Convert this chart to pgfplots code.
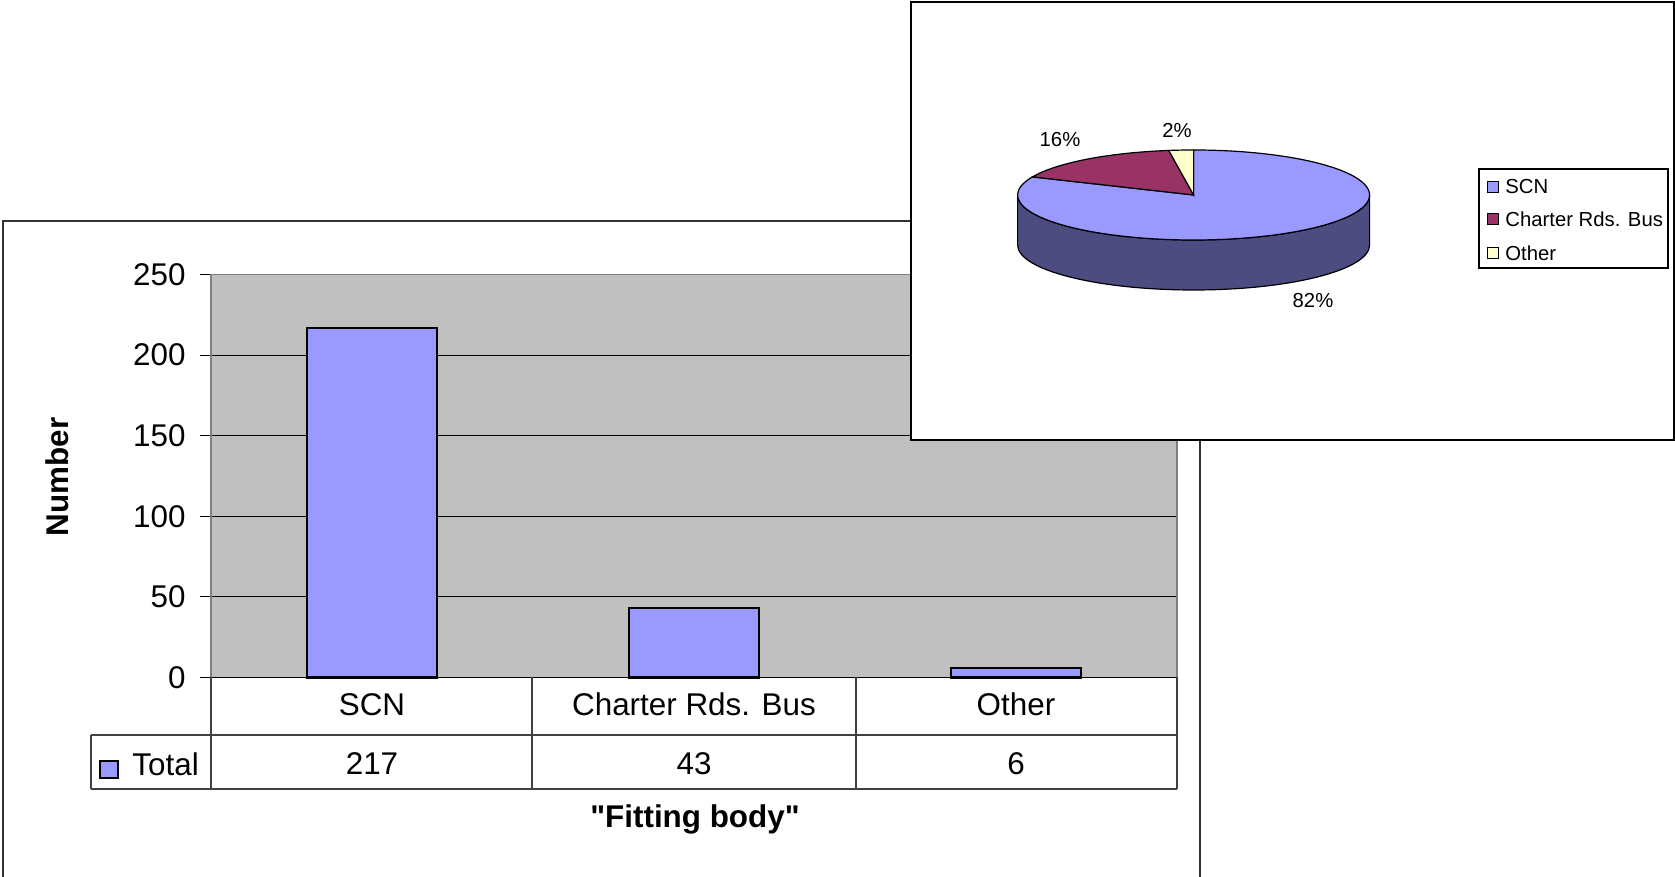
\documentclass[border=0pt]{standalone}
\usepackage{pgfplots}
\pgfplotsset{compat=1.18}
\usepackage{fontspec}
\setmainfont{Liberation Sans}[Ligatures=TeXOff]
\definecolor{scn}{HTML}{9999FF}
\definecolor{scnside}{HTML}{4C4C80}
\definecolor{charter}{HTML}{993366}
\definecolor{other}{HTML}{FFFFCC}
\definecolor{plotgray}{HTML}{C0C0C0}
\newcommand{\fbig}{\fontsize{15.7}{18}\selectfont}
\newcommand{\fsmall}{\fontsize{10.15}{12}\selectfont}
\begin{document}
\begin{tikzpicture}[x=0.5pt,y=0.5pt]
\useasboundingbox (0,0) rectangle (1675,877);
\clip (0,0) rectangle (1675,877);
% frame of bar chart
\draw[black!80, line width=0.75pt] (3,-5) -- (3,656) -- (1200,656) -- (1200,-5);
\begin{axis}[at={(105.5pt,99.75pt)}, anchor=south west, scale only axis,
  width=483pt, height=201.5pt,
  xmin=-0.5, xmax=2.5, ymin=0, ymax=250,
  ytick={0,50,...,250}, xtick={0,1,2}, ytick pos=left,
  xticklabels={SCN,Charter Rds. Bus,Other},
  axis background/.style={fill=plotgray},
  axis line style={draw=black!50, line width=0.75pt},
  ymajorgrids, grid style={black, line width=0.5pt},
  tick align=outside, major tick length=5.5pt,
  ytick style={black, line width=0.5pt}, xtick style={draw=none},
  tick label style={font=\fbig},
  yticklabel style={anchor=east, xshift=-3.7pt},
  xticklabel style={anchor=center, yshift=-8pt},
  /pgf/number format/assume math mode=true,
  ybar, bar width=65pt, clip=false]
\addplot[fill=scn, draw=black, line width=1.1pt] coordinates {(0,217) (1,43) (2,6)};
\draw[black, line width=0.75pt] (axis cs:-0.5,0) -- (axis cs:2.5,0);
\end{axis}
% data table
\begin{scope}[black!75, line width=0.75pt]
\draw (91,142) -- (1177,142);
\draw (91,88) -- (1177,88);
\draw (91,142) -- (91,88);
\draw (211,199.5) -- (211,88);
\draw (532,199.5) -- (532,88);
\draw (856,199.5) -- (856,88);
\draw (1177,199.5) -- (1177,88);
\end{scope}
\filldraw[fill=scn, draw=black, line width=0.75pt] (100,99) rectangle (118,116);
\node[anchor=west, inner sep=0pt, font=\fbig] at (132,113) {Total};
\node[font=\fbig] at (372,113) {217};
\node[font=\fbig] at (694,113) {43};
\node[font=\fbig] at (1016,113) {6};
\node[rotate=90, font=\fbig\bfseries] at (57,400) {Number};
\node[font=\fbig\bfseries] at (695,58) {"Fitting body"};
% pie chart box
\filldraw[fill=white, draw=black, line width=0.75pt] (911,437) rectangle (1674,875);
\def\pcx{1193.6}\def\pcy{682}\def\prx{176}\def\pry{45}\def\pd{50}
\pgfmathsetmacro\ptot{217+43+6}
\pgfmathsetmacro\aA{90-360*(217/\ptot)}
\pgfmathsetmacro\aB{\aA-360*(43/\ptot)}
\pgfmathsetmacro\aC{\aB-360*(6/\ptot)}
\filldraw[fill=scnside, draw=black, line width=0.6pt]
  (\pcx-\prx,\pcy) -- (\pcx-\prx,\pcy-\pd)
  arc[start angle=180, end angle=360, x radius=\prx, y radius=\pry]
  -- (\pcx+\prx,\pcy)
  arc[start angle=0, end angle=-180, x radius=\prx, y radius=\pry] -- cycle;
\filldraw[fill=scn, draw=black, line width=0.6pt] (\pcx,\pcy) -- ++({\prx*cos(\aA)},{\pry*sin(\aA)})
  arc[start angle=\aA, end angle=90, x radius=\prx, y radius=\pry] -- cycle;
\filldraw[fill=charter, draw=black, line width=0.6pt] (\pcx,\pcy) -- ++({\prx*cos(\aB)},{\pry*sin(\aB)})
  arc[start angle=\aB, end angle=\aA, x radius=\prx, y radius=\pry] -- cycle;
\filldraw[fill=other, draw=black, line width=0.6pt] (\pcx,\pcy) -- ++({\prx*cos(\aC)},{\pry*sin(\aC)})
  arc[start angle=\aC, end angle=\aB, x radius=\prx, y radius=\pry] -- cycle;
\node[font=\fsmall] at (1060,737) {16\%};
\node[font=\fsmall] at (1177,747) {2\%};
\node[font=\fsmall] at (1313,576) {82\%};
% legend
\draw[black, line width=0.6pt] (1479,609) rectangle (1668,708);
\filldraw[fill=scn, draw=black, line width=0.5pt] (1487,684.5) rectangle (1498,695.5);
\filldraw[fill=charter, draw=black, line width=0.5pt] (1487,652.5) rectangle (1498,663.5);
\filldraw[fill=other, draw=black, line width=0.5pt] (1487,618.5) rectangle (1498,629.5);
\node[anchor=west, inner sep=0pt, font=\fsmall] at (1505,690) {SCN};
\node[anchor=west, inner sep=0pt, font=\fsmall] at (1505,658) {Charter Rds. Bus};
\node[anchor=west, inner sep=0pt, font=\fsmall] at (1505,624) {Other};
\end{tikzpicture}
\end{document}
